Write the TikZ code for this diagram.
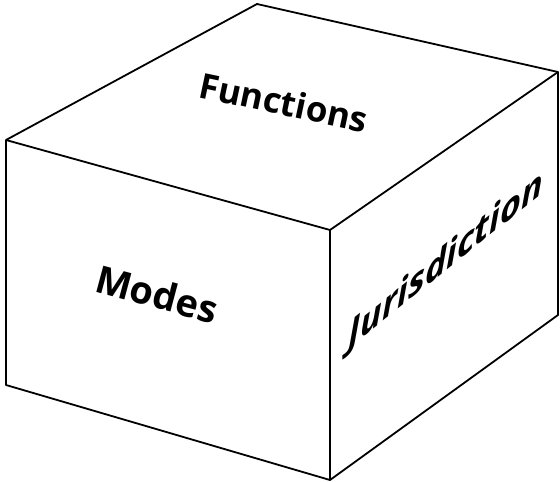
\documentclass[tikz,border=0pt]{standalone}
\usepackage{fontspec}
\setmainfont{Open Sans}
\begin{document}
\begin{tikzpicture}[x=1pt, y=-1pt, line width=1.8pt, line join=round,
    % --- 样式定义 ---
    face_text/.style={inner sep=0pt, font=\fontsize{#1}{#1}\selectfont\bfseries},
    face_text/.default=32
]
    \useasboundingbox (0,0) rectangle (560,482);

    % --- 1. 定义坐标 (立方体顶点) ---
    \coordinate (T_back)  at (257,   4); % 顶面：后
    \coordinate (T_left)  at (  6, 140); % 顶面：左
    \coordinate (T_front) at (330, 230); % 顶面：前
    \coordinate (T_right) at (558,  72); % 顶面：右
    \coordinate (B_left)  at (  6, 385); % 底：左
    \coordinate (B_front) at (330, 480); % 底：前
    \coordinate (B_right) at (558, 315); % 底：右

    % --- 2. 连线 ---
    % 外轮廓
    \draw (T_left) -- (T_back) -- (T_right) -- (B_right) -- (B_front) -- (B_left) -- cycle;
    % 前面的棱
    \draw (T_left) -- (T_front) -- (T_right);
    \draw (T_front) -- (B_front);

    % --- 3. 各面文字 ---
    \node[face_text=35, rotate=-12] (functions) at (284, 102) {Functions};
    \node[face_text=38, rotate=-15] (modes) at (157, 294) {Modes};
    % 右侧面：竖线保持竖直，再加斜体
    \node[face_text=36, yslant=0.8] (jurisdiction) at (446, 261) {\itshape Jurisdiction};

\end{tikzpicture}
\end{document}
